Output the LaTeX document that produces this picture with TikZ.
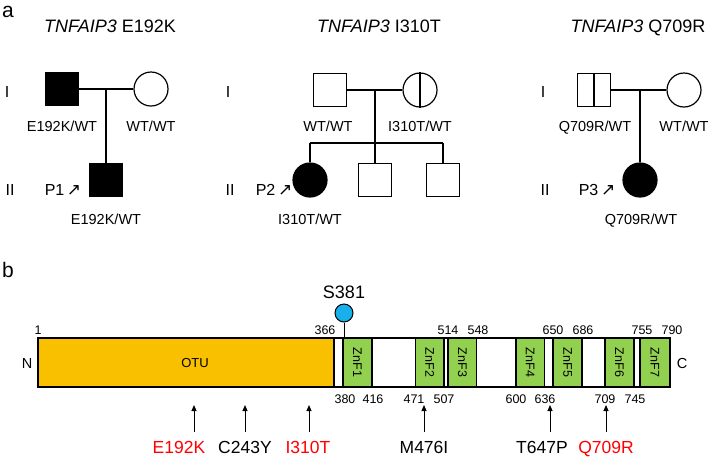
\documentclass[tikz,border=0pt]{standalone}
\usepackage{fontspec}
\setmainfont{Liberation Sans}
\newfontfamily\arrowfont{DejaVu Sans}
\usetikzlibrary{arrows.meta,calc}
\definecolor{otuorange}{HTML}{F9C000}
\definecolor{znfgreen}{HTML}{92D050}
\definecolor{sblue}{HTML}{18B0EA}
\definecolor{mutred}{HTML}{FF0000}
\newcommand{\fs}[1]{\fontsize{#1}{#1}\selectfont}
\newcommand{\proband}{\,{\arrowfont\fs{17}↗}}
\begin{document}
\begin{tikzpicture}[x=1pt,y=-1pt,
  lw/.style={line width=1.2pt},
  male/.style={draw,lw,rectangle,minimum size=33pt,inner sep=0pt},
  female/.style={draw,lw,circle,minimum size=34pt,inner sep=0pt},
  affected/.style={fill=black},
  geno/.style={font=\fs{14.5},inner sep=0pt,anchor=base},
  gen/.style={font=\fs{16},inner sep=0pt,anchor=base},
  ttl/.style={font=\fs{18},inner sep=0pt,anchor=base},
  panel/.style={font=\fs{21},inner sep=0pt,anchor=base west},
  num/.style={font=\fs{12.5},inner sep=0pt,anchor=base},
  mut/.style={font=\fs{17.5},inner sep=0pt,anchor=base},
  dom/.style={draw,line width=1.3pt,minimum height=49pt,inner sep=0pt},
  znf/.style={dom,fill=znfgreen},
  dlab/.style={font=\fs{12.5},inner sep=0pt,rotate=-90},
  mutarrow/.style={line width=1pt,-{Triangle[length=6pt,width=5pt]}}
]
\useasboundingbox (0,0) rectangle (709,456);

% ---------------- panel a ----------------
\node[panel] (la) at (2,17) {a};

% pedigree 1
\node[ttl] (t1) at (110,32) {\textit{TNFAIP3} E192K};
\node[gen] (g1a) at (7,97) {I};
\node[gen] (g1b) at (10,195) {II};
\node[male,affected] (f1) at (62,89) {};
\node[female] (m1) at (151,89) {};
\coordinate (j1) at (106,89);
\node[male,affected] (c1) at (106,180) {};
\draw[lw] (f1.east) -- (m1.west);
\draw[lw] (j1) -- (c1.north);
\node[geno] (gf1) at (62,131) {E192K/WT};
\node[geno] (gm1) at (151,131) {WT/WT};
\node[geno] (gc1) at (106,224) {E192K/WT};
\node[gen] (p1) at (63,195) {P1\proband};

% pedigree 2
\node[ttl] (t2) at (379,32) {\textit{TNFAIP3} I310T};
\node[gen] (g2a) at (228,97) {I};
\node[gen] (g2b) at (230,195) {II};
\node[male] (f2) at (330,90) {};
\node[female] (m2) at (420,90) {};
\draw[lw] (m2.north) -- (m2.south);
\coordinate (j2) at (375,90);
\coordinate (s2) at (375,143);
\node[female,affected] (c21) at (310,180) {};
\node[male] (c22) at (375,180) {};
\node[male] (c23) at (443,180) {};
\draw[lw] (f2.east) -- (m2.west);
\draw[lw] (j2) -- (s2);
\draw[lw] (c21.north |- s2) -- (c23.north |- s2);
\draw[lw] (c21.north |- s2) -- (c21.north);
\draw[lw] (s2) -- (c22.north);
\draw[lw] (c23.north |- s2) -- (c23.north);
\node[geno] (gf2) at (328,131) {WT/WT};
\node[geno] (gm2) at (420,131) {I310T/WT};
\node[geno] (gc2) at (310,224) {I310T/WT};
\node[gen] (p2) at (274,195) {P2\proband};

% pedigree 3
\node[ttl] (t3) at (638,32) {\textit{TNFAIP3} Q709R};
\node[gen] (g3a) at (543,97) {I};
\node[gen] (g3b) at (545,195) {II};
\node[male] (f3) at (594,90) {};
\draw[lw] (f3.north) -- (f3.south);
\node[female] (m3) at (684,90) {};
\coordinate (j3) at (640,90);
\node[female,affected] (c3) at (640,180) {};
\draw[lw] (f3.east) -- (m3.west);
\draw[lw] (j3) -- (c3.north);
\node[geno] (gf3) at (595,131) {Q709R/WT};
\node[geno] (gm3) at (684,131) {WT/WT};
\node[geno] (gc3) at (641,224) {Q709R/WT};
\node[gen] (p3) at (597,195) {P3\proband};

% ---------------- panel b ----------------
\node[panel] (lb) at (2,277) {b};

\node[dom,fill=white,minimum width=632pt] (bar) at (354,362.5) {};
\node[dom,fill=otuorange,minimum width=296pt] (otu) at (186,362.5) {};
\node[znf,minimum width=29pt] (z1) at (357.5,362.5) {};
\node[znf,minimum width=28.5pt] (z2) at (429.8,362.5) {};
\node[znf,minimum width=28.5pt] (z3) at (462.3,362.5) {};
\node[znf,minimum width=28.5pt] (z4) at (530.2,362.5) {};
\node[znf,minimum width=29pt] (z5) at (567.5,362.5) {};
\node[znf,minimum width=29pt] (z6) at (619.5,362.5) {};
\node[znf,minimum width=30pt] (z7) at (655,362.5) {};
\draw[line width=1.3pt] (bar.north west) rectangle (bar.south east);

\node[font=\fs{13},inner sep=0pt,anchor=base] (lotu) at (195,367) {OTU};
\node[dlab] (l1) at (z1.center) {ZnF1};
\node[dlab] (l2) at (z2.center) {ZnF2};
\node[dlab] (l3) at (z3.center) {ZnF3};
\node[dlab] (l4) at (z4.center) {ZnF4};
\node[dlab] (l5) at (z5.center) {ZnF5};
\node[dlab] (l6) at (z6.center) {ZnF6};
\node[dlab] (l7) at (z7.center) {ZnF7};

\node[font=\fs{14.5},inner sep=0pt,anchor=base] (nN) at (27,368) {N};
\node[font=\fs{14.5},inner sep=0pt,anchor=base] (nC) at (682,368) {C};

% S381 phosphosite
\node[draw,line width=1pt,circle,fill=sblue,minimum size=18pt,inner sep=0pt] (ps) at (344,313) {};
\draw[line width=1pt] (ps.south) -- (ps.south |- bar.north);
\node[font=\fs{18},inner sep=0pt,anchor=base] (s381) at (344,298) {S381};

% position numbers (top)
\node[num] (n1) at (38,334) {1};
\node[num] (n366) at (325,334) {366};
\node[num] (n514) at (448,334) {514};
\node[num] (n548) at (478,334) {548};
\node[num] (n650) at (553,334) {650};
\node[num] (n686) at (583,334) {686};
\node[num] (n755) at (642,334) {755};
\node[num] (n790) at (672,334) {790};
% position numbers (bottom)
\node[num] (n380) at (345,403) {380};
\node[num] (n416) at (373,403) {416};
\node[num] (n471) at (414,403) {471};
\node[num] (n507) at (444,403) {507};
\node[num] (n600) at (516,403) {600};
\node[num] (n636) at (545,403) {636};
\node[num] (n709) at (605,403) {709};
\node[num] (n745) at (635,403) {745};

% mutations
\foreach \x/\n in {194/a1,245/a2,309/a3,424/a4,550/a5,606/a6}{
  \coordinate (\n t) at (\x,432);
  \coordinate (\n h) at (\x,405);
  \draw[mutarrow] (\n t) -- (\n h);
}
\node[mut,text=mutred] (mE) at (179,453) {E192K};
\node[mut] (mC) at (245,453) {C243Y};
\node[mut,text=mutred] (mI) at (308,453) {I310T};
\node[mut] (mM) at (424,453) {M476I};
\node[mut] (mT) at (542,453) {T647P};
\node[mut,text=mutred] (mQ) at (606,453) {Q709R};
\end{tikzpicture}
\end{document}
